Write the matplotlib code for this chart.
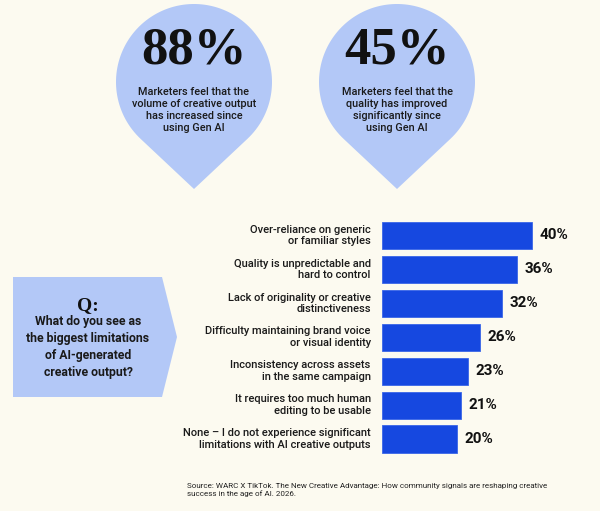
import matplotlib
matplotlib.use("Agg")
import matplotlib.pyplot as plt
from matplotlib import font_manager
from matplotlib.patches import Polygon
import numpy as np

# data
stat_values = ["88%", "45%"]
stat_texts = [
    "Marketers feel that the\nvolume of creative output\nhas increased since\nusing Gen AI",
    "Marketers feel that the\nquality has improved\nsignificantly since\nusing Gen AI",
]
categories = [
    "Over-reliance on generic\nor familiar styles",
    "Quality is unpredictable and\nhard to control",
    "Lack of originality or creative\ndistinctiveness",
    "Difficulty maintaining brand voice\nor visual identity",
    "Inconsistency across assets\nin the same campaign",
    "It requires too much human\nediting to be usable",
    "None \u2013 I do not experience significant\nlimitations with AI creative outputs",
]
values = [40, 36, 32, 26, 23, 21, 20]
question = "What do you see as\nthe biggest limitations\nof AI-generated\ncreative output?"
source = ("Source: WARC X TikTok. The New Creative Advantage: How community signals are reshaping creative\n"
          "success in the age of AI. 2026.")

BG = "#FCFAF0"
LIGHT = "#B3C8F7"
BLUE = "#1648E0"
SANS = "Roboto"


def pick(names):
    for n in names:
        try:
            font_manager.findfont(n, fallback_to_default=False)
            return n
        except Exception:
            pass
    return names[-1]


SERIF = pick(["Liberation Serif", "Noto Serif", "DejaVu Serif"])

fig = plt.figure(figsize=(6, 5.11), dpi=100, facecolor=BG)

# background canvas in pixel coords (y down)
bg = fig.add_axes([0, 0, 1, 1])
bg.set_xlim(0, 600)
bg.set_ylim(511, 0)
bg.axis("off")
bg.set_facecolor(BG)


def teardrop(cx, cy, r, tip_y):
    d = tip_y - cy
    a = np.arccos(r / d)
    t = np.linspace(a, 2 * np.pi - a, 120)
    pts = np.column_stack([cx + r * np.sin(t), cy + r * np.cos(t)])
    pts = np.vstack([pts, [cx, tip_y]])
    return Polygon(pts, closed=True, facecolor=LIGHT, edgecolor="none")


for cx, val, txt in zip([194, 397], stat_values, stat_texts):
    bg.add_patch(teardrop(cx, 82, 78, 189))
    bg.text(cx, 51, val, ha="center", va="center", fontsize=38,
            fontweight="bold", family=SERIF, color="#111111")
    bg.text(cx, 110, txt, ha="center", va="center", fontsize=7.8,
            family=SANS, fontweight="medium", color="#1a1a1a", linespacing=1.25)

# question box
bg.add_patch(Polygon([[13, 277], [162, 277], [177, 337], [162, 397], [13, 397]],
                     closed=True, facecolor=LIGHT, edgecolor="none"))
bg.text(88, 306, "Q:", ha="center", va="center", fontsize=14, fontweight="bold",
        family=SERIF, color="#111111")
bg.text(88, 347, question, ha="center", va="center", fontsize=8.8, fontweight="bold",
        family=SANS, color="#1a1a1a", linespacing=1.42)

bg.text(187, 490, source, ha="left", va="center", fontsize=5.8, family=SANS,
        color="#222222", linespacing=1.15)

# bar chart
ax = fig.add_axes([382 / 600, (511 - 456) / 511, 218 / 600, (456 - 218.5) / 511])
ax.set_facecolor("none")
y = np.arange(len(values))
ax.barh(y, values, height=0.8, color=BLUE, edgecolor="#3a66e8", linewidth=0.6)
ax.set_xlim(0, 218 / 3.75)
ax.set_ylim(len(values) - 0.5, -0.5)
ax.axis("off")
for yi, v, c in zip(y, values, categories):
    ax.text(v + 2.0, yi, f"{v}%", ha="left", va="center", fontsize=11,
            fontweight="bold", family=SANS, color="#111111")
    ax.text(-3.0, yi, c, ha="right", va="center", fontsize=8, family=SANS,
            fontweight="medium", color="#1a1a1a", linespacing=1.2, clip_on=False)

fig.savefig("out.png", dpi=100, facecolor=BG)
